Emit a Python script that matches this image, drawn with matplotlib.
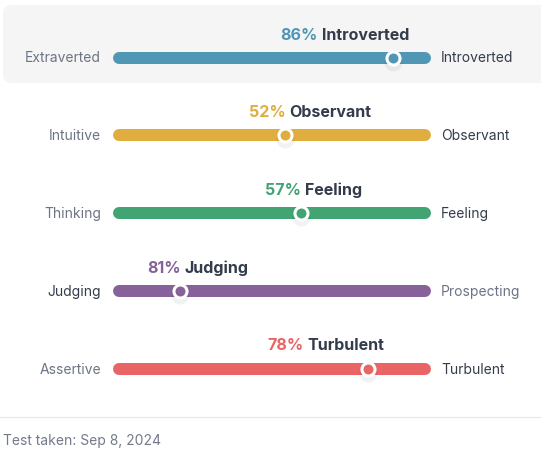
import matplotlib
matplotlib.use("Agg")
import matplotlib.pyplot as plt
from matplotlib.patches import FancyBboxPatch
from matplotlib.transforms import offset_copy

# ---- data ----
left_traits = ["Extraverted", "Intuitive", "Thinking", "Judging", "Assertive"]
right_traits = ["Introverted", "Observant", "Feeling", "Prospecting", "Turbulent"]
percents = [86, 52, 57, 81, 78]
dominant = ["right", "right", "right", "left", "right"]
colors = ["#4f97b4", "#dfae3e", "#42a373", "#87619a", "#e96565"]
footer = "Test taken: Sep 8, 2024"

# ---- layout ----
W, H, DPI = 541, 457, 100
BAR_L, BAR_R = 113, 431
ROW0, STEP = 57.5, 77.75
BAR_H = 12
DARK = "#343c4b"
GRAY = "#6d7486"

plt.rcParams['font.family'] = ['Inter', 'DejaVu Sans']
fig = plt.figure(figsize=(W / DPI, H / DPI), dpi=DPI)
fig.patch.set_facecolor("white")

bg = fig.add_axes([0, 0, 1, 1])
bg.set_xlim(0, W)
bg.set_ylim(H, 0)
bg.axis("off")
bg.add_patch(FancyBboxPatch((3, 5), 580, 78, boxstyle="round,pad=0,rounding_size=9",
                            fc="#f5f5f5", ec="none"))
bg.plot([0, W], [416.5, 416.5], color="#e8e8e8", lw=0.9)
bg.text(3, 441.5, footer, ha="left", va="center", fontsize=10, color="#737a8a")

ax = fig.add_axes([BAR_L / W, 0, (BAR_R - BAR_L) / W, 1])
ax.set_xlim(0, 100)
ax.set_ylim((H - ROW0) / STEP, -ROW0 / STEP)
ax.axis("off")
ax.patch.set_alpha(0)

px_per_unit = (BAR_R - BAR_L) / 100.0
cap = (BAR_H / 2) / px_per_unit
lw_pt = BAR_H * 72 / DPI

mk_tr = offset_copy(ax.transData, fig=fig, x=7, y=0, units="dots")
sh_tr = offset_copy(ax.transData, fig=fig, x=7, y=-4, units="dots")

for i, (lt, rt, p, dom, c) in enumerate(zip(left_traits, right_traits, percents, dominant, colors)):
    pos = p if dom == "right" else 100 - p
    ax.plot([cap, 100 - cap], [i, i], color=c, lw=lw_pt, solid_capstyle="round", zorder=2)
    # marker shadow and marker
    ax.plot([pos], [i], "o", ms=13, color="#000000", alpha=0.05, mec="none",
            transform=sh_tr, zorder=3)
    ax.plot([pos], [i], "o", ms=9.4, mfc=c, mec="white", mew=2.2,
            transform=mk_tr, zorder=4)
    # side labels
    ax.annotate(lt, xy=(0, i), xytext=(-12, -1), textcoords="offset pixels",
                ha="right", va="center", fontsize=10,
                color=DARK if dom == "left" else GRAY)
    ax.annotate(rt, xy=(100, i), xytext=(10, -1), textcoords="offset pixels",
                ha="left", va="center", fontsize=10,
                color=DARK if dom == "right" else GRAY)
    trait = rt if dom == "right" else lt
    if pos > 70:
        t = ax.annotate(trait, xy=(pos, i), xytext=(7 + 16, 22.5), textcoords="offset pixels",
                        ha="right", va="center", fontsize=11.5, fontweight="bold", color=DARK)
        ax.annotate(f"{p}%", xy=(0, 0.5), xycoords=t, xytext=(-4, 0),
                    textcoords="offset pixels", ha="right", va="center",
                    fontsize=11.5, fontweight="bold", color=c)
    else:
        ax.annotate(f"{p}%", xy=(pos, i), xytext=(7, 22.5), textcoords="offset pixels",
                    ha="right", va="center", fontsize=11.5, fontweight="bold", color=c)
        ax.annotate(trait, xy=(pos, i), xytext=(7 + 4, 22.5), textcoords="offset pixels",
                    ha="left", va="center", fontsize=11.5, fontweight="bold", color=DARK)

fig.savefig("out.png", dpi=DPI)
